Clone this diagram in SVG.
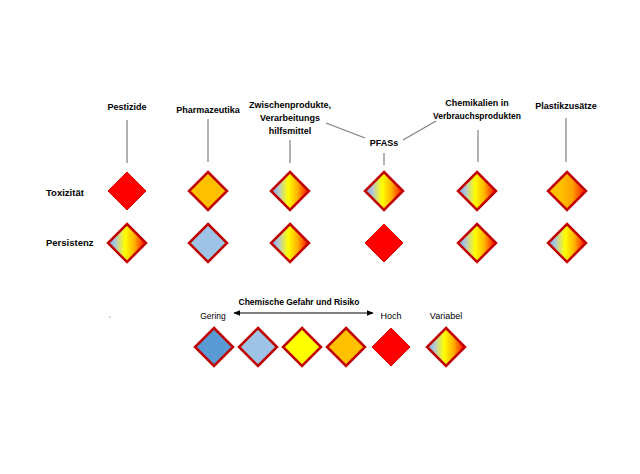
<svg xmlns="http://www.w3.org/2000/svg" width="640" height="474" viewBox="0 0 640 474">
<defs>
<linearGradient id="gVar" x1="0" y1="0" x2="1" y2="0">
<stop offset="0.1" stop-color="#92B8E3"/>
<stop offset="0.2" stop-color="#B5C8D0"/>
<stop offset="0.45" stop-color="#FFFF00"/>
<stop offset="0.7" stop-color="#FFB000"/>
<stop offset="1" stop-color="#FF0000"/>
</linearGradient>
<linearGradient id="gOR" x1="0" y1="0" x2="1" y2="0">
<stop offset="0.35" stop-color="#FFC000"/>
<stop offset="0.65" stop-color="#FFA000"/>
<stop offset="1" stop-color="#FF1000"/>
</linearGradient>
<polygon id="d" points="0,-19 19,0 0,19 -19,0"/>
<marker id="ah" viewBox="0 0 10 10" refX="9" refY="5" markerWidth="7" markerHeight="7" orient="auto-start-reverse">
<path d="M0,1 L10,5 L0,9 Z" fill="#000"/>
</marker>
</defs>
<style>
.lbl{font-family:"Liberation Sans",Arial,sans-serif;font-weight:bold;font-size:9px;fill:#000;text-anchor:middle}
.row{font-family:"Liberation Sans",Arial,sans-serif;font-weight:bold;font-size:9.5px;fill:#000}
.reg{font-family:"Liberation Sans",Arial,sans-serif;font-size:9px;fill:#000;text-anchor:middle}
.red{fill:#FF0000;stroke:#E00000;stroke-width:1}
.bord{stroke:#C00000;stroke-width:2.5;stroke-linejoin:miter}
.orange{fill:#FFC000}
.lblue{fill:#9DC3E6}
.blue{fill:#5B9BD5}
.yellow{fill:#FFFF00}
.var{fill:url(#gVar)}
.ovr{fill:url(#gOR)}
.conn{stroke:#7F7F7F;stroke-width:1.2;fill:none}
</style>
<rect width="640" height="474" fill="#fff"/>
<g id="connectors">
<line class="conn" x1="127" y1="120" x2="127" y2="163"/>
<line class="conn" x1="208" y1="119" x2="208" y2="162"/>
<line class="conn" x1="290" y1="140" x2="290" y2="163"/>
<line class="conn" x1="384" y1="153" x2="384" y2="165"/>
<line class="conn" x1="478" y1="130" x2="478" y2="162"/>
<line class="conn" x1="566" y1="118" x2="566" y2="162"/>
<line class="conn" x1="326" y1="123" x2="365" y2="138"/>
<line class="conn" x1="403" y1="140" x2="436" y2="121"/>
<line x1="234" y1="313" x2="373" y2="313" stroke="#000" stroke-width="1" marker-start="url(#ah)" marker-end="url(#ah)"/>
</g>
<g id="labels">
<text class="lbl" x="127" y="110">Pestizide</text>
<text class="lbl" x="208" y="113">Pharmazeutika</text>
<text class="lbl" x="290" y="108">Zwischenprodukte,</text>
<text class="lbl" x="290" y="121">Verarbeitungs</text>
<text class="lbl" x="290" y="134">hilfsmittel</text>
<text class="lbl" x="384" y="146">PFASs</text>
<text class="lbl" x="477" y="106">Chemikalien in</text>
<text class="lbl" x="477" y="119" style="font-size:8.5px">Verbrauchsprodukten</text>
<text class="lbl" x="566" y="109">Plastikzusätze</text>
<text class="row" x="46" y="196">Toxizität</text>
<text class="row" x="46" y="246">Persistenz</text>
</g>
<g id="tox-pestizide"><use href="#d" x="127" y="191" class="red"/></g>
<g id="tox-pharma"><use href="#d" x="208" y="191" class="orange bord"/></g>
<g id="tox-zwischen"><use href="#d" x="290" y="191" class="var bord"/></g>
<g id="tox-pfas"><use href="#d" x="384" y="191" class="var bord"/></g>
<g id="tox-chem"><use href="#d" x="477" y="191" class="var bord"/></g>
<g id="tox-plastik"><use href="#d" x="567" y="191" class="ovr bord"/></g>
<g id="per-pestizide"><use href="#d" x="127" y="243" class="var bord"/></g>
<g id="per-pharma"><use href="#d" x="208" y="243" class="lblue bord"/></g>
<g id="per-zwischen"><use href="#d" x="290" y="243" class="var bord"/></g>
<g id="per-pfas"><use href="#d" x="384" y="243" class="red"/></g>
<g id="per-chem"><use href="#d" x="477" y="243" class="var bord"/></g>
<g id="per-plastik"><use href="#d" x="567" y="243" class="var bord"/></g>
<g id="legend">
<text class="lbl" x="299" y="305" style="font-size:8.5px">Chemische Gefahr und Risiko</text>
<text class="reg" x="213" y="319" style="font-size:8.5px">Gering</text>
<text class="reg" x="391" y="319">Hoch</text>
<text class="reg" x="446" y="319">Variabel</text>
<circle cx="110" cy="317" r="0.6" fill="#555"/>
<use href="#d" x="214" y="347" class="blue bord"/>
<use href="#d" x="258" y="347" class="lblue bord"/>
<use href="#d" x="302" y="347" class="yellow bord"/>
<use href="#d" x="346" y="347" class="orange bord"/>
<use href="#d" x="391" y="347" class="red"/>
<use href="#d" x="446" y="347" class="var bord"/>
</g>
</svg>
